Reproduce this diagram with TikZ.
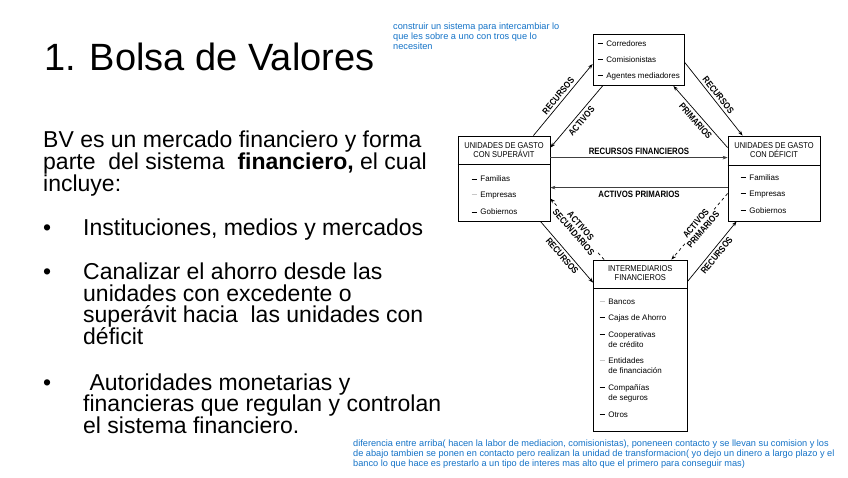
\documentclass[tikz,border=0pt]{standalone}
\usepackage{fontspec}
\setmainfont{Liberation Sans}
\newfontfamily\narrowfont[FakeStretch=0.85]{Liberation Sans}
\newfontfamily\hdrfont[FakeStretch=0.88]{Liberation Sans}
\usetikzlibrary{arrows.meta,calc}
\definecolor{noteblue}{RGB}{20,115,200}
\newcommand\itdash{\rule[2.4pt]{5.5pt}{0.9pt}\hspace{3.2pt}}
\newcommand\itdashfaint{\textcolor{black!22}{\rule[2.4pt]{5.5pt}{0.7pt}}\hspace{3.2pt}}
\newcommand\itindent{\hspace{8.7pt}}
\begin{document}
\begin{tikzpicture}[x=1pt,y=-1pt,
 box/.style={draw, line width=0.8pt, inner sep=0pt},
 itm/.style={anchor=west, inner sep=0pt, font=\fontsize{8}{10}\selectfont},
 hdr/.style={inner sep=0pt, align=center, font=\hdrfont\fontsize{8.5}{9}\selectfont},
 lbl/.style={inner sep=0.5pt, align=center, font=\narrowfont\bfseries\fontsize{9.2}{9.5}\selectfont},
 arr/.style={-{Stealth[length=5pt,width=3.6pt]}, line width=0.7pt},
 harr/.style={arr, draw=black!75, line width=0.6pt},
 darr/.style={arr, dashed},
 body/.style={anchor=base west, inner sep=0pt, font=\fontsize{23}{22}\selectfont},
 note/.style={anchor=base west, inner sep=0pt, text=noteblue, font=\fontsize{9.2}{10}\selectfont}]
\useasboundingbox (0,0) rectangle (848,477);
\fill[white] (0,0) rectangle (848,477);

% ---- left text ----
\node[anchor=base west, inner sep=0pt, font=\fontsize{38}{40}\selectfont] (title) at (44,70) {1. Bolsa de Valores};
\node[body] (b1) at (43,147.7) {BV es un mercado financiero y forma};
\node[body] (b2) at (43,169.3) {parte\ \ del sistema\ \ \textbf{financiero,} el cual};
\node[body] (b3) at (43,191) {incluye:};
\node[body] (d1) at (43,235) {•};
\node[body] (i1) at (83,235) {Instituciones, medios y mercados};
\node[body] (d2) at (43,279.3) {•};
\node[body] (i2a) at (83,279.3) {Canalizar el ahorro desde las};
\node[body] (i2b) at (83,301) {unidades con excedente o};
\node[body] (i2c) at (83,322.7) {superávit hacia\ \ las unidades con};
\node[body] (i2d) at (83,344.4) {déficit};
\node[body] (d3) at (43,390) {•};
\node[body] (i3a) at (83,390) {\ Autoridades monetarias y};
\node[body] (i3b) at (83,411.7) {financieras que regulan y controlan};
\node[body] (i3c) at (83,433.3) {el sistema financiero.};

% ---- notes ----
\node[note] (n1) at (393,29.3) {construir un sistema para intercambiar lo};
\node[note] (n2) at (393,39.6) {que les sobre a uno con tros que lo};
\node[note] (n3) at (393,49.9) {necesiten};
\node[note] (m1) at (353,446.5) {diferencia entre arriba( hacen la labor de mediacion, comisionistas), poneneen contacto y se llevan su comision y los};
\node[note] (m2) at (353,456.5) {de abajo tambien se ponen en contacto pero realizan la unidad de transformacion( yo dejo un dinero a largo plazo y el};
\node[note] (m3) at (353,466.5) {banco lo que hace es prestarlo a un tipo de interes mas alto que el primero para conseguir mas)};

% ---- boxes ----
\node[box, minimum width=91, minimum height=51] (top) at (638.5,60) {};
\node[box, minimum width=92, minimum height=85] (left) at (504,178.5) {};
\node[box, minimum width=92, minimum height=85] (right) at (774,178.5) {};
\node[box, minimum width=93.5, minimum height=171] (bot) at (640.25,345.5) {};
\draw[line width=0.8pt] (left.west |- 0,164.5) -- (left.east |- 0,164.5);
\draw[line width=0.8pt] (right.west |- 0,165.5) -- (right.east |- 0,165.5);
\draw[line width=0.8pt] (bot.west |- 0,288) -- (bot.east |- 0,288);

% top box items
\node[itm] (t1) at (597.5,43.3) {\itdash Corredores};
\node[itm] (t2) at (597.5,59.3) {\itdash Comisionistas};
\node[itm] (t3) at (597.5,76.7) {\itdash Agentes mediadores};

% left box
\node[hdr] (lh) at (504,150.5) {UNIDADES DE GASTO\\CON SUPERÁVIT};
\node[itm] (l1) at (471.5,179) {\itdash Familias};
\node[itm] (l2) at (471.5,195.5) {\itdashfaint Empresas};
\node[itm] (l3) at (471.5,212) {\itdash Gobiernos};

% right box
\node[hdr] (rh) at (774,150.5) {UNIDADES DE GASTO\\CON DÉFICIT};
\node[itm] (r1) at (740.5,177.7) {\itdash Familias};
\node[itm] (r2) at (740.5,194.3) {\itdash Empresas};
\node[itm] (r3) at (740.5,210.7) {\itdash Gobiernos};

% bottom box
\node[hdr] (bh) at (640.25,273) {INTERMEDIARIOS\\FINANCIEROS};
\node[itm] (k1) at (599.5,301.7) {\itdashfaint Bancos};
\node[itm] (k2) at (599.5,318) {\itdash Cajas de Ahorro};
\node[itm, anchor=north west, align=left] (k3) at (599.5,331) {\itdash Cooperativas\\\itindent de crédito};
\node[itm, anchor=north west, align=left] (k4) at (599.5,357.5) {\itdashfaint Entidades\\\itindent de financiación};
\node[itm, anchor=north west, align=left] (k5) at (599.5,384) {\itdash Compañías\\\itindent de seguros};
\node[itm] (k6) at (599.5,414.5) {\itdash Otros};

% ---- connectors ----
\draw[arr] ($(left.north east)+(-17,0)$) -- ($(top.west)+(0,4)$)
  node[lbl, midway, sloped, above=2pt] {RECURSOS};
\draw[arr] ($(top.south west)+(10,0)$) -- ($(left.north east)+(0,12)$)
  node[lbl, midway, sloped, below=2.5pt] {ACTIVOS};
\draw[arr] ($(top.east)+(0,2)$) -- ($(right.north west)+(15,0)$)
  node[lbl, midway, sloped, above=2pt] {RECURSOS};
\draw[arr] ($(right.north west)+(0,12)$) -- ($(top.south east)+(-11,0)$)
  node[lbl, midway, sloped, below=2.5pt] {PRIMARIOS};
\draw[harr] ($(left.north east)+(0,22)$) -- ($(right.north west)+(0,22)$)
  node[lbl, midway, above=2pt] {RECURSOS FINANCIEROS};
\draw[harr] ($(right.north west)+(0,52)$) -- ($(left.north east)+(0,52)$)
  node[lbl, midway, below=2.5pt] {ACTIVOS PRIMARIOS};
\draw[darr] ($(bot.north west)+(11,0)$) -- ($(left.east)+(0,20)$)
  node[lbl, midway, sloped, fill=white, inner sep=0pt] {ACTIVOS\\SECUNDARIOS};
\draw[darr] ($(right.west)+(0,15)$) -- ($(bot.north east)+(-16,0)$)
  node[lbl, midway, sloped, fill=white, inner sep=0pt] {ACTIVOS\\PRIMARIOS};
\draw[arr] ($(left.south east)+(-10,0)$) -- ($(bot.north west)+(0,23)$)
  node[lbl, midway, sloped, below=2pt] {RECURSOS};
\draw[arr] ($(bot.north east)+(0,22)$) -- ($(right.south west)+(9,0)$)
  node[lbl, midway, sloped, below=2pt] {RECURSOS};
\end{tikzpicture}
\end{document}
